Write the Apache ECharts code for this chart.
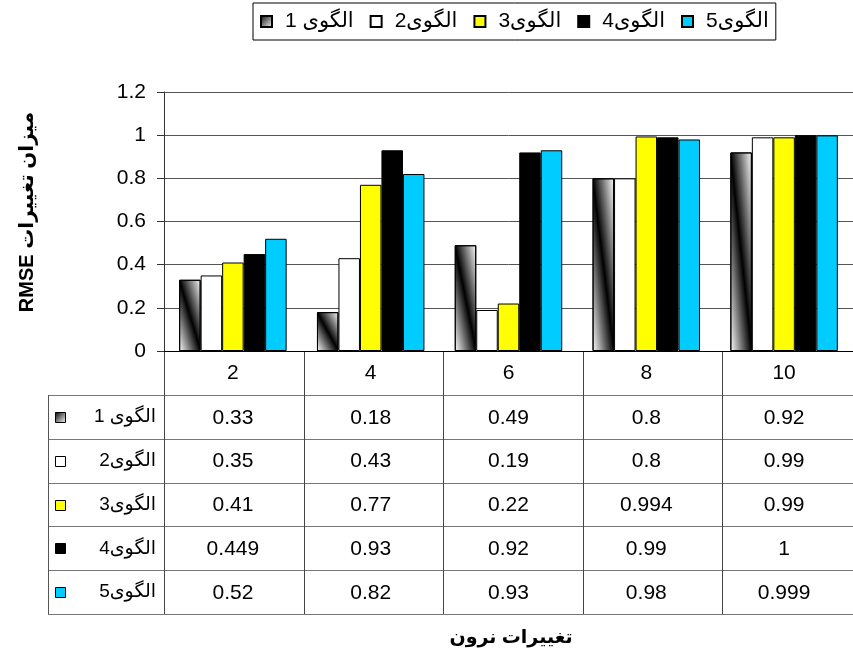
<!DOCTYPE html>
<html>
<head>
<meta charset="utf-8">
<script src="https://cdn.jsdelivr.net/npm/echarts@6/dist/echarts.min.js"></script>
<style>
  html, body { margin: 0; padding: 0; background: #fff; }
  #main { width: 853px; height: 651px; }
</style>
</head>
<body>
<div id="main"></div>
<script>
// Neuron counts on the horizontal axis
const categories = ['2', '4', '6', '8', '10'];
// Pattern names
const seriesNames = ['الگوی 1', 'الگوی2', 'الگوی3', 'الگوی4', 'الگوی5'];
// RMSE change per pattern
const pattern1 = [0.33, 0.18, 0.49, 0.8, 0.92];
const pattern2 = [0.35, 0.43, 0.19, 0.8, 0.99];
const pattern3 = [0.41, 0.77, 0.22, 0.994, 0.99];
const pattern4 = [0.449, 0.93, 0.92, 0.99, 1];
const pattern5 = [0.52, 0.82, 0.93, 0.98, 0.999];
const seriesValues = [pattern1, pattern2, pattern3, pattern4, pattern5];
// Value axis range
const yMin = 0, yMax = 1.2, yStep = 0.2;
// Titles
const yTitle = 'میزان تغییرات RMSE';
const xTitle = 'تغییرات نرون';

const FONT = '"Liberation Sans", Arial, "DejaVu Sans", sans-serif';
const rtl = s => '\u202B' + s + '\u202C';

const G = { left: 164, top: 92, width: 698, height: 259 };
const HEADER_H = 44, ROW_H = 43.8, TABLE_LEFT = 48;
const LABEL_SIZE = 21;

const legendIconFill = new echarts.graphic.LinearGradient(0, 0, 1, 1, [
  { offset: 0, color: '#000' }, { offset: 1, color: '#fff' }
]);
const fills = [legendIconFill, '#ffffff', '#ffff00', '#000000', '#00ccff'];

const chart = echarts.init(document.getElementById('main'), null, { renderer: 'canvas' });

const baseOption = {
  animation: false,
  backgroundColor: '#fff',
  textStyle: { fontFamily: FONT },
  legend: {
    left: 253, top: 3,
    padding: [8, 7, 8, 7],
    itemGap: 16,
    itemWidth: 11, itemHeight: 11,
    borderColor: '#000', borderWidth: 1,
    icon: 'rect',
    data: seriesNames,
    formatter: n => rtl(n),
    textStyle: { fontSize: LABEL_SIZE, color: '#000', fontFamily: FONT, padding: [0, 0, 0, 8] }
  },
  grid: Object.assign({ containLabel: false }, G),
  xAxis: {
    type: 'category',
    data: categories,
    axisLine: { lineStyle: { color: '#000', width: 1 } },
    axisTick: { show: false },
    axisLabel: { fontSize: LABEL_SIZE, color: '#000', margin: 12, fontFamily: FONT },
    splitLine: { show: false }
  },
  yAxis: {
    type: 'value',
    min: yMin, max: yMax, interval: yStep,
    axisLine: { show: true, lineStyle: { color: '#333', width: 1 } },
    axisTick: { show: true, length: 7, lineStyle: { color: '#333' } },
    axisLabel: { fontSize: LABEL_SIZE, color: '#000', margin: 18, fontFamily: FONT },
    splitLine: { show: true, lineStyle: { color: '#555', width: 1 } }
  },
  series: seriesNames.map((name, k) => ({
    name,
    type: 'bar',
    barGap: '0%',
    barCategoryGap: '22%',
    data: seriesValues[k],
    itemStyle: { color: fills[k], borderColor: '#000', borderWidth: 1 },
    emphasis: { disabled: true }
  }))
};

chart.setOption(baseOption);

// Diagonal shading for pattern 1: dark along the top-left to bottom-right diagonal of each bar
const layoutData = chart.getModel().getSeriesByIndex(0).getData();
const shaded = pattern1.map((v, i) => {
  const lay = layoutData.getItemLayout(i);
  const w = Math.abs(lay.width), h = Math.max(Math.abs(lay.height), 1);
  const r = (w * w) / (h * h);
  const s = 1 / (1 + r);
  const grad = new echarts.graphic.LinearGradient(
    0.5 - s, 0.5 + s * r, 0.5 + s, 0.5 - s * r,
    [{ offset: 0, color: '#ffffff' }, { offset: 0.5, color: '#000000' }, { offset: 1, color: '#ffffff' }]
  );
  return { value: v, itemStyle: { color: grad } };
});

// Data table under the plot
const graphics = [];
const tableTop = G.top + G.height;
const tableRight = G.left + G.width;
const rowsTop = tableTop + HEADER_H;
const tableBottom = rowsTop + ROW_H * seriesNames.length;
const colW = G.width / categories.length;

const line = (x1, y1, x2, y2, color) => graphics.push({
  type: 'line', silent: true,
  shape: { x1, y1, x2, y2 },
  style: { stroke: color, lineWidth: 1 }
});

// horizontal rules
for (let r = 0; r <= seriesNames.length; r++) {
  const y = Math.round(rowsTop + r * ROW_H) + 0.5;
  line(TABLE_LEFT, y, tableRight, y, '#777');
}
// vertical rules
line(TABLE_LEFT + 0.5, rowsTop, TABLE_LEFT + 0.5, tableBottom, '#555');
line(G.left + 0.5, tableTop, G.left + 0.5, tableBottom, '#444');
for (let c = 1; c <= categories.length; c++) {
  const x = Math.round(G.left + c * colW) + 0.5;
  line(x, tableTop, x, tableBottom, '#444');
}

seriesNames.forEach((name, r) => {
  const cy = rowsTop + r * ROW_H + ROW_H / 2;
  graphics.push({
    type: 'rect', silent: true,
    shape: { x: 55.5, y: Math.round(cy - 5) + 0.5, width: 10, height: 10 },
    style: { fill: fills[r], stroke: '#000', lineWidth: 1 }
  });
  graphics.push({
    type: 'text', silent: true,
    x: 156, y: cy,
    style: { text: rtl(name), fontSize: 19, fontFamily: FONT, fill: '#000', align: 'right', verticalAlign: 'middle' }
  });
  seriesValues[r].forEach((v, c) => {
    const cx = chart.convertToPixel({ xAxisIndex: 0 }, categories[c]);
    graphics.push({
      type: 'text', silent: true,
      x: cx, y: cy + 1,
      style: { text: String(v), fontSize: LABEL_SIZE, fontFamily: FONT, fill: '#000', align: 'center', verticalAlign: 'middle' }
    });
  });
});

// Axis titles
graphics.push({
  type: 'text', silent: true,
  x: 27, y: 212, rotation: Math.PI / 2,
  style: { text: rtl(yTitle), fontSize: 20, fontWeight: 'bold', fontFamily: FONT, fill: '#000', align: 'center', verticalAlign: 'middle' }
});
graphics.push({
  type: 'text', silent: true,
  x: 511, y: 638,
  style: { text: rtl(xTitle), fontSize: 19, fontWeight: 'bold', fontFamily: FONT, fill: '#000', align: 'center', verticalAlign: 'middle' }
});

chart.setOption({
  series: [{ data: shaded }],
  graphic: { elements: graphics }
});
</script>
</body>
</html>
